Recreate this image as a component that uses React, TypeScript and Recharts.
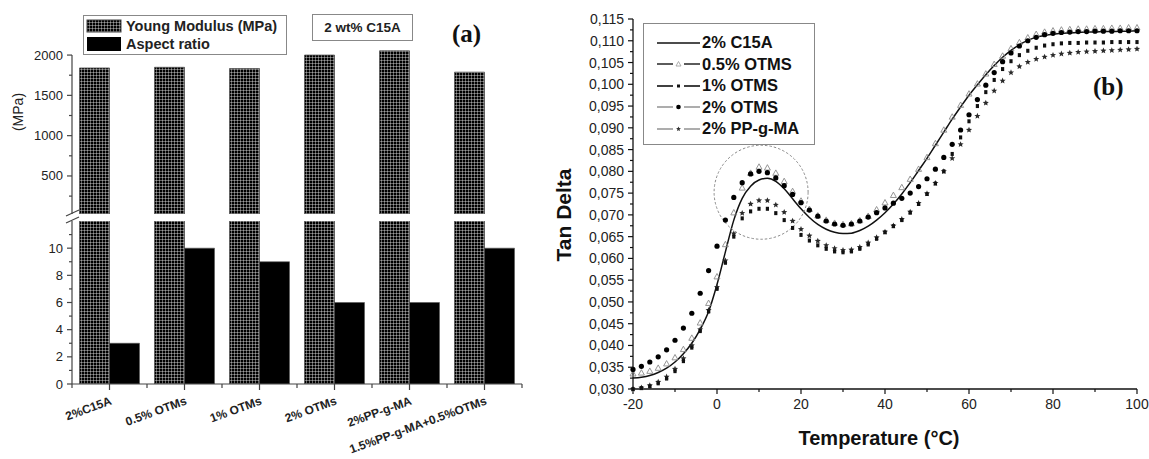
import React from 'react';
import { BarChart, Bar, LineChart, Line, XAxis, YAxis, Legend, ReferenceDot } from 'recharts';

// ---- panel (a) ----
const sampleLabels = ['2%C15A', '0.5% OTMs', '1% OTMs', '2% OTMs', '2%PP-g-MA', '1.5%PP-g-MA+0.5%OTMs'];
const youngModulus = [1840, 1848, 1832, 2000, 2052, 1788];
const aspectRatio = [3, 10, 9, 6, 6, 10];
const modulusTicks = [250, 500, 750, 1000, 1250, 1500, 1750, 2000];
const ratioTicks = [0, 1, 2, 3, 4, 5, 6, 7, 8, 9, 10, 11];

// ---- panel (b) ----
const temperature = [
  -20, -18, -16, -14, -12, -10, -8, -6, -4, -2, 0, 2, 4, 6, 8, 10, 12, 14, 16, 18, 20,
  22, 24, 26, 28, 30, 32, 34, 36, 38, 40, 42, 44, 46, 48, 50, 52, 54, 56, 58, 60,
  62, 64, 66, 68, 70, 72, 74, 76, 78, 80, 82, 84, 86, 88, 90, 92, 94, 96, 98, 100,
];
const c15a = [
  0.0325, 0.0327, 0.0331, 0.0338, 0.0348, 0.0362, 0.0381, 0.0405, 0.0437, 0.0478, 0.054,
  0.0615, 0.0688, 0.0738, 0.0766, 0.078, 0.0784, 0.0777, 0.076, 0.0737, 0.0714,
  0.0694, 0.0678, 0.0667, 0.066, 0.0657, 0.0658, 0.0664, 0.0674, 0.0688, 0.0705,
  0.0725, 0.0748, 0.0774, 0.0802, 0.083, 0.086, 0.089, 0.092, 0.0948, 0.0975,
  0.0999, 0.1022, 0.1043, 0.1062, 0.1078, 0.1091, 0.1101, 0.1108, 0.1112, 0.1115,
  0.1117, 0.1118, 0.1119, 0.112, 0.112, 0.1121, 0.1121, 0.1122, 0.1122, 0.1123,
];
const otms05 = [
  0.0335, 0.0337, 0.0341, 0.0348, 0.0358, 0.0372, 0.0391, 0.0417, 0.0452, 0.0497, 0.0558,
  0.0632, 0.0705, 0.0762, 0.0796, 0.081, 0.0808, 0.0796, 0.0777, 0.0754, 0.0732,
  0.0713, 0.0698, 0.0688, 0.0681, 0.0678, 0.068, 0.0687, 0.0697, 0.0712, 0.0728,
  0.0745, 0.0763, 0.0782, 0.0805, 0.0832, 0.0864, 0.0895, 0.0925, 0.0952, 0.0978,
  0.1001, 0.1024, 0.1046, 0.1065, 0.1082, 0.1096, 0.1107, 0.1115, 0.112, 0.1123,
  0.1125, 0.1126, 0.1127, 0.1127, 0.1128, 0.1128, 0.1129, 0.1129, 0.113, 0.113,
];
const otms1 = [
  0.03, 0.0302, 0.0306, 0.0313, 0.0324, 0.0341, 0.0364, 0.0395, 0.0433, 0.0478, 0.053,
  0.059, 0.065, 0.0692, 0.0708, 0.0714, 0.0714, 0.0704, 0.0688, 0.067, 0.0654,
  0.0641, 0.063, 0.0622, 0.0616, 0.0614, 0.0616, 0.0622, 0.0632, 0.0645, 0.066,
  0.0674, 0.0688, 0.0705, 0.0725, 0.0748, 0.0772, 0.08, 0.084, 0.0878, 0.0915,
  0.095, 0.0982, 0.101, 0.1035, 0.1053, 0.1067, 0.1077, 0.1084, 0.1089, 0.1092,
  0.1094, 0.1095, 0.1095, 0.1096, 0.1096, 0.1096, 0.1097, 0.1097, 0.1097, 0.1097,
];
const otms2 = [
  0.0345, 0.0352, 0.0362, 0.0374, 0.039, 0.0412, 0.044, 0.0474, 0.052, 0.0572, 0.0628,
  0.0688, 0.074, 0.0774, 0.0794, 0.08, 0.0797, 0.0785, 0.0767, 0.0747, 0.0728,
  0.0711, 0.0697, 0.0686, 0.0679, 0.0676, 0.0679, 0.0686, 0.0695, 0.0705, 0.0716,
  0.0727, 0.0738, 0.075, 0.0765, 0.0783, 0.0805, 0.0832, 0.0862, 0.0895, 0.093,
  0.0965, 0.0998, 0.1027, 0.1052, 0.1072, 0.1088, 0.11, 0.1108, 0.1114, 0.1117,
  0.1119, 0.112, 0.1121, 0.1121, 0.1122, 0.1122, 0.1122, 0.1123, 0.1123, 0.1123,
];
const ppgma = [
  0.03, 0.0303, 0.0308, 0.0316, 0.0328, 0.0346, 0.037, 0.04, 0.0437, 0.0481, 0.0534,
  0.0595, 0.0657, 0.0704, 0.0725, 0.0733, 0.0733, 0.0723, 0.0706, 0.0686, 0.0667,
  0.0652, 0.064, 0.063, 0.0623, 0.0619, 0.062, 0.0626, 0.0636, 0.0648, 0.0661,
  0.0675, 0.069, 0.0707, 0.0727, 0.0749, 0.0773, 0.08, 0.083, 0.0862, 0.0895,
  0.0927, 0.0957, 0.0985, 0.1008, 0.1027, 0.1041, 0.1051, 0.1058, 0.1063, 0.1067,
  0.107, 0.1072, 0.1074, 0.1075, 0.1076, 0.1077, 0.1078, 0.1079, 0.108, 0.1081,
];
const tanTicks = [
  0.03, 0.0325, 0.035, 0.0375, 0.04, 0.0425, 0.045, 0.0475, 0.05, 0.0525, 0.055, 0.0575,
  0.06, 0.0625, 0.065, 0.0675, 0.07, 0.0725, 0.075, 0.0775, 0.08, 0.0825, 0.085, 0.0875,
  0.09, 0.0925, 0.095, 0.0975, 0.1, 0.1025, 0.105, 0.1075, 0.11, 0.1125, 0.115,
];
const tempTicks = [-20, -10, 0, 10, 20, 30, 40, 50, 60, 70, 80, 90, 100];

const barData = sampleLabels.map((sample, i) => ({ sample, young: youngModulus[i], aspect: aspectRatio[i] }));
const tanData = temperature.map((t, i) => ({
  t,
  c15a: c15a[i],
  otms05: otms05[i],
  otms1: otms1[i],
  otms2: otms2[i],
  ppgma: ppgma[i],
}));

const SANS = '"Liberation Sans", Arial, sans-serif';
const SERIF = '"Liberation Serif", "Times New Roman", serif';
const AXIS_A = '#444';
const TEXT_A = '#222';

// panel (a) geometry
const PA_W = 530;
const PA_MARGIN = { left: 12, right: 8 };
const PA_YAXIS_W = 60;
const BAND_A = (PA_W - PA_MARGIN.left - PA_MARGIN.right - PA_YAXIS_W) / sampleLabels.length;
const TOP_H = 214;
const TOP_MARGIN_T = 47;
const TOP_PLOT_H = TOP_H - TOP_MARGIN_T;
const MOD_MIN = 28;
const MOD_MAX = 2100;

function ModulusTick(props: any) {
  const { x, y, payload } = props;
  const v = payload.value;
  const major = v % 500 === 0;
  const axisLen = v === 2000 ? (2000 - MOD_MIN) * (TOP_PLOT_H / (MOD_MAX - MOD_MIN)) : 0;
  return (
    <g>
      {axisLen > 0 && <line x1={x} y1={y} x2={x} y2={y + axisLen} stroke={AXIS_A} strokeWidth={1.2} />}
      <line x1={x} y1={y} x2={x - (major ? 5 : 3)} y2={y} stroke={AXIS_A} strokeWidth={1.2} />
      {major && (
        <text x={x - 9} y={y + 4.5} textAnchor="end" fontSize={13} fill={TEXT_A} fontFamily={SANS}>
          {v}
        </text>
      )}
    </g>
  );
}

function RatioTick(props: any) {
  const { x, y, payload } = props;
  const v = payload.value;
  const major = v % 2 === 0;
  return (
    <g>
      <line x1={x} y1={y} x2={x - (major ? 5 : 3)} y2={y} stroke={AXIS_A} strokeWidth={1.2} />
      {major && (
        <text x={x - 9} y={y + 4.5} textAnchor="end" fontSize={13} fill={TEXT_A} fontFamily={SANS}>
          {v}
        </text>
      )}
    </g>
  );
}

function SampleTick(props: any) {
  const { x, y, payload, index } = props;
  const half = BAND_A / 2;
  return (
    <g>
      <line x1={x} y1={y} x2={x} y2={y + 6} stroke={AXIS_A} strokeWidth={1.2} />
      <line x1={x - half} y1={y} x2={x - half} y2={y + 4} stroke={AXIS_A} strokeWidth={1.2} />
      {index === sampleLabels.length - 1 && (
        <line x1={x + half} y1={y} x2={x + half} y2={y + 4} stroke={AXIS_A} strokeWidth={1.2} />
      )}
      <text
        transform={`translate(${x + 3},${y + 20}) rotate(-20)`}
        textAnchor="end"
        fontSize={12}
        fontWeight={700}
        fill={TEXT_A}
        fontFamily={SANS}
      >
        {payload.value}
      </text>
    </g>
  );
}

function TanTick(props: any) {
  const { x, y, payload } = props;
  const v = payload.value;
  const major = Math.round(v * 10000) % 50 === 0;
  return (
    <g>
      <line x1={x} y1={y} x2={x - (major ? 5 : 3)} y2={y} stroke="#111" strokeWidth={1.2} />
      {major && (
        <text x={x - 9} y={y + 5} textAnchor="end" fontSize={14} fill={TEXT_A} fontFamily={SANS}>
          {v.toFixed(3).replace('.', ',')}
        </text>
      )}
    </g>
  );
}

function TempTick(props: any) {
  const { x, y, payload } = props;
  const v = payload.value;
  const major = v % 20 === 0;
  return (
    <g>
      <line x1={x} y1={y} x2={x} y2={y + (major ? 5 : 3)} stroke="#111" strokeWidth={1.2} />
      {major && (
        <text x={x} y={y + 20} textAnchor="middle" fontSize={14} fill={TEXT_A} fontFamily={SANS}>
          {v}
        </text>
      )}
    </g>
  );
}

const GridPattern = ({ id }: { id: string }) => (
  <pattern id={id} width={3} height={3} patternUnits="userSpaceOnUse">
    <rect width={3} height={3} fill="#000" />
    <path d="M0 0.25H3M0.25 0V3" stroke="#ffffff" strokeWidth={0.5} />
  </pattern>
);

// markers for panel (b)
const triangleDot = (p: any) =>
  p.cx == null ? null : (
    <path
      key={`tri-${p.index}`}
      d={`M${p.cx},${p.cy - 3.2}L${p.cx + 3},${p.cy + 2.2}L${p.cx - 3},${p.cy + 2.2}Z`}
      fill="none"
      stroke="#8a8a8a"
      strokeWidth={0.9}
    />
  );
const squareDot = (p: any) =>
  p.cx == null ? null : (
    <rect key={`sq-${p.index}`} x={p.cx - 1.6} y={p.cy - 2} width={3.2} height={4} fill="#111" />
  );
const roundDot = (p: any) =>
  p.cx == null ? null : <circle key={`rd-${p.index}`} cx={p.cx} cy={p.cy} r={2.6} fill="#000" />;
const starPath = (cx: number, cy: number, r: number) => {
  let d = '';
  for (let k = 0; k < 10; k++) {
    const rad = k % 2 === 0 ? r : r * 0.45;
    const a = -Math.PI / 2 + (k * Math.PI) / 5;
    d += `${k === 0 ? 'M' : 'L'}${cx + rad * Math.cos(a)},${cy + rad * Math.sin(a)}`;
  }
  return d + 'Z';
};
const starDot = (p: any) =>
  p.cx == null ? null : <path key={`st-${p.index}`} d={starPath(p.cx, p.cy, 3.2)} fill="#2a2a2a" />;

const YoungLegend = () => (
  <div
    style={{
      width: 202,
      height: 37,
      border: '1px solid #888',
      background: '#fff',
      fontFamily: SANS,
      fontWeight: 700,
      fontSize: 14.5,
      color: TEXT_A,
      lineHeight: '18px',
      paddingTop: 1,
    }}
  >
    <div style={{ display: 'flex', alignItems: 'center', height: 18 }}>
      <svg width={40} height={14} style={{ marginLeft: 2 }}>
        <defs>
          <GridPattern id="gridLegend" />
        </defs>
        <rect x={1} y={1} width={34} height={12} fill="url(#gridLegend)" stroke="#444" />
      </svg>
      <span>Young Modulus (MPa)</span>
    </div>
    <div style={{ display: 'flex', alignItems: 'center', height: 18 }}>
      <svg width={40} height={16} style={{ marginLeft: 2 }}>
        <rect x={1} y={1} width={34} height={14} fill="#000" />
      </svg>
      <span>Aspect ratio</span>
    </div>
  </div>
);

const tanLegendItems = [
  { label: '2% C15A', line: '#111', marker: 'none' },
  { label: '0.5% OTMS', line: '#333', marker: 'tri' },
  { label: '1% OTMS', line: '#111', marker: 'sq' },
  { label: '2% OTMS', line: '#999', marker: 'dot' },
  { label: '2% PP-g-MA', line: '#999', marker: 'star' },
];

const TanLegend = () => (
  <div
    style={{
      width: 172,
      height: 122,
      border: '1px solid #888',
      background: '#fff',
      fontFamily: SANS,
      fontWeight: 700,
      fontSize: 16.5,
      color: '#111',
      paddingTop: 8,
      boxSizing: 'border-box',
    }}
  >
    {tanLegendItems.map((it) => (
      <div key={it.label} style={{ display: 'flex', alignItems: 'center', height: 21.5 }}>
        <svg width={45} height={10} style={{ marginLeft: 13 }}>
          {it.marker === 'none' ? (
            <line x1={0} y1={5} x2={43} y2={5} stroke={it.line} strokeWidth={1.6} />
          ) : (
            <>
              <line x1={0} y1={5} x2={16} y2={5} stroke={it.line} strokeWidth={1.6} />
              <line x1={27} y1={5} x2={43} y2={5} stroke={it.line} strokeWidth={1.6} />
            </>
          )}
          {it.marker === 'tri' && <path d="M21.5,2.5L24,7L19,7Z" fill="none" stroke="#999" strokeWidth={0.8} />}
          {it.marker === 'sq' && <rect x={20} y={3.5} width={3} height={3} fill="#111" />}
          {it.marker === 'dot' && <circle cx={21.5} cy={5} r={2.3} fill="#000" />}
          {it.marker === 'star' && <path d={starPath(21.5, 5, 2.6)} fill="#333" />}
        </svg>
        <span>{it.label}</span>
      </div>
    ))}
  </div>
);

// axis titles, placed in the chart's own svg coordinates
const ModulusTitle = () => (
  <text transform="translate(23,112) rotate(-90)" textAnchor="middle" fontSize={14} fill={TEXT_A} fontFamily={SANS}>
    (MPa)
  </text>
);

const TanTitle = () => (
  <text transform="translate(51,215) rotate(-90)" textAnchor="middle" fontSize={21} fontWeight={700} fill="#111" fontFamily={SANS}>
    Tan Delta
  </text>
);

const TempTitle = (props: any) => {
  const { viewBox } = props;
  return (
    <text x={viewBox.x + viewBox.width / 2 - 6} y={445} textAnchor="middle" fontSize={20} fontWeight={700} fill="#111" fontFamily={SANS}>
      Temperature (°C)
    </text>
  );
};

export default function App() {
  return (
    <div style={{ position: 'absolute', left: 0, top: 0, width: 1149, height: 459, background: '#fff', fontFamily: SANS }}>
      {/* (a) upper section: modulus */}
      <div style={{ position: 'absolute', left: 0, top: 0 }}>
        <BarChart
          width={PA_W}
          height={TOP_H}
          data={barData}
          margin={{ top: TOP_MARGIN_T, right: PA_MARGIN.right, bottom: 0, left: PA_MARGIN.left }}
          barCategoryGap="10%"
          barGap={0}
        >
          <defs>
            <GridPattern id="gridTop" />
          </defs>
          <XAxis dataKey="sample" hide />
          <YAxis
            type="number"
            domain={[MOD_MIN, MOD_MAX]}
            allowDataOverflow
            ticks={modulusTicks}
            interval={0}
            width={PA_YAXIS_W}
            tickSize={0}
            tickMargin={0}
            tickLine={false}
            axisLine={false}
            tick={ModulusTick}
            label={{ content: ModulusTitle }}
          />
          <Legend
            layout="horizontal"
            verticalAlign="middle"
            align="center"
            content={YoungLegend}
            wrapperStyle={{ left: 83, top: 15, width: 204 }}
          />
          <Bar dataKey="young" fill="url(#gridTop)" stroke="#555" strokeWidth={0.8} isAnimationActive={false} />
          <Bar dataKey="aspect" fill="#000" isAnimationActive={false} />
        </BarChart>
      </div>

      {/* (a) lower section: aspect ratio */}
      <div style={{ position: 'absolute', left: 0, top: 200 }}>
        <BarChart
          width={PA_W}
          height={259}
          data={barData}
          margin={{ top: 21, right: PA_MARGIN.right, bottom: 15, left: PA_MARGIN.left }}
          barCategoryGap="10%"
          barGap={0}
        >
          <defs>
            <GridPattern id="gridBottom" />
          </defs>
          <XAxis
            dataKey="sample"
            height={60}
            interval={0}
            tickSize={0}
            tickMargin={0}
            tickLine={false}
            axisLine={{ stroke: AXIS_A, strokeWidth: 1.2 }}
            tick={SampleTick}
          />
          <YAxis
            type="number"
            domain={[0, 12]}
            allowDataOverflow
            ticks={ratioTicks}
            interval={0}
            width={PA_YAXIS_W}
            tickSize={0}
            tickMargin={0}
            tickLine={false}
            axisLine={{ stroke: AXIS_A, strokeWidth: 1.2 }}
            tick={RatioTick}
          />
          <Bar dataKey="young" fill="url(#gridBottom)" stroke="#555" strokeWidth={0.8} isAnimationActive={false} />
          <Bar dataKey="aspect" fill="#000" stroke="#555" strokeWidth={0.6} isAnimationActive={false} />
        </BarChart>
      </div>

      {/* axis break marks */}
      <svg style={{ position: 'absolute', left: 60, top: 204 }} width={26} height={24}>
        <line x1={6} y1={12} x2={19} y2={6} stroke={AXIS_A} strokeWidth={1.2} />
        <line x1={6} y1={19} x2={19} y2={13} stroke={AXIS_A} strokeWidth={1.2} />
      </svg>

      <div
        style={{
          position: 'absolute',
          left: 312,
          top: 14,
          width: 99,
          height: 25,
          border: '1px solid #888',
          fontWeight: 700,
          fontSize: 13.5,
          color: TEXT_A,
          display: 'flex',
          alignItems: 'center',
          justifyContent: 'center',
        }}
      >
        2 wt% C15A
      </div>
      <div style={{ position: 'absolute', left: 452, top: 20, fontFamily: SERIF, fontWeight: 700, fontSize: 25, color: '#111' }}>
        (a)
      </div>

      {/* (b) tan delta */}
      <div style={{ position: 'absolute', left: 520, top: 0 }}>
        <LineChart width={629} height={459} data={tanData} margin={{ top: 19, right: 12, bottom: 10, left: 38 }}>
          <XAxis
            dataKey="t"
            type="number"
            domain={[-20, 100]}
            ticks={tempTicks}
            interval={0}
            height={60}
            tickSize={0}
            tickMargin={0}
            tickLine={false}
            axisLine={{ stroke: '#111', strokeWidth: 1.3 }}
            tick={TempTick}
            label={{ content: TempTitle }}
          />
          <YAxis
            type="number"
            domain={[0.03, 0.115]}
            ticks={tanTicks}
            interval={0}
            width={75}
            tickSize={0}
            tickMargin={0}
            tickLine={false}
            axisLine={{ stroke: '#111', strokeWidth: 1.3 }}
            tick={TanTick}
            label={{ content: TanTitle }}
          />
          <Legend
            layout="horizontal"
            verticalAlign="middle"
            align="center"
            content={TanLegend}
            wrapperStyle={{ left: 123, top: 23, width: 174 }}
          />
          <ReferenceDot x={10.5} y={0.0752} r={47} fill="none" stroke="#8a8a8a" strokeWidth={1} strokeDasharray="2.5 2" />
          <Line dataKey="otms05" name="0.5% OTMS" stroke="none" dot={triangleDot} activeDot={false} isAnimationActive={false} />
          <Line dataKey="ppgma" name="2% PP-g-MA" stroke="none" dot={starDot} activeDot={false} isAnimationActive={false} />
          <Line dataKey="otms1" name="1% OTMS" stroke="none" dot={squareDot} activeDot={false} isAnimationActive={false} />
          <Line dataKey="otms2" name="2% OTMS" stroke="none" dot={roundDot} activeDot={false} isAnimationActive={false} />
          <Line
            dataKey="c15a"
            name="2% C15A"
            type="monotone"
            stroke="#111"
            strokeWidth={1.5}
            dot={false}
            activeDot={false}
            isAnimationActive={false}
          />
        </LineChart>
      </div>
      <div style={{ position: 'absolute', left: 1093, top: 73, fontFamily: SERIF, fontWeight: 700, fontSize: 25, color: '#111' }}>
        (b)
      </div>
    </div>
  );
}
